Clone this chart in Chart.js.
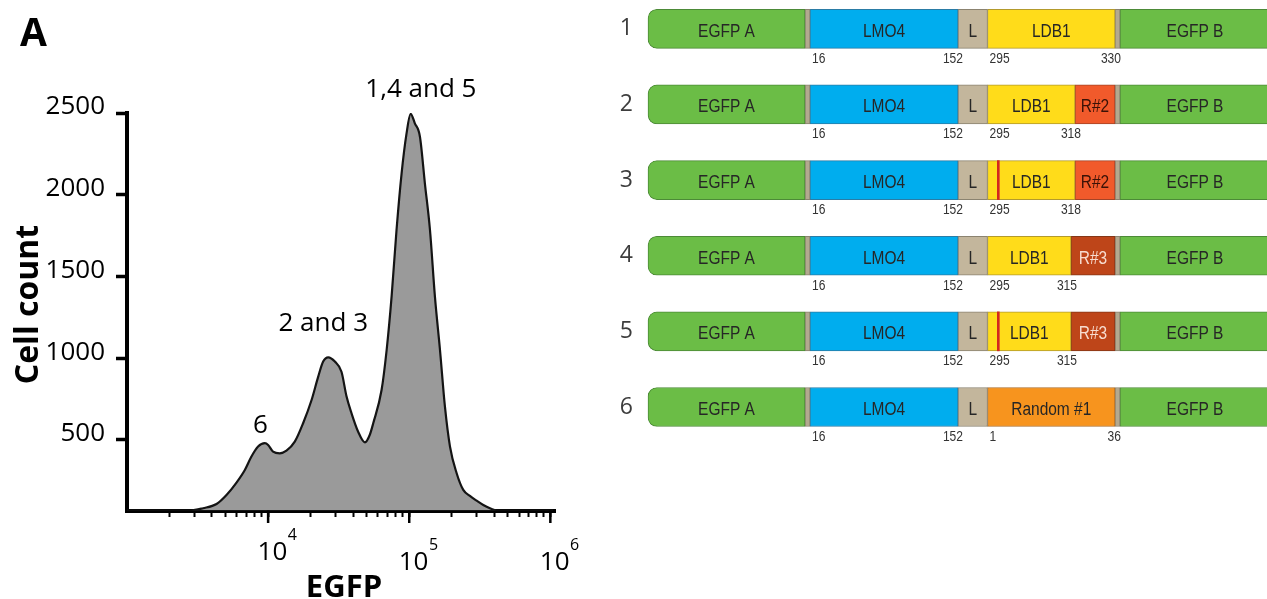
<!DOCTYPE html>
<html>
<head>
<meta charset="utf-8">
<script src="https://cdn.jsdelivr.net/npm/chart.js@4.4.1/dist/chart.umd.min.js"></script>
<style>
  html, body { margin: 0; padding: 0; background: #fff; width: 1267px; height: 599px; overflow: hidden; }
  #flow { position: absolute; left: 0; top: 0; }
  #constructs { position: absolute; left: 600px; top: 0; }
</style>
</head>
<body>
<canvas id="flow" width="600" height="599"></canvas>
<canvas id="constructs" width="667" height="460"></canvas>
<script>
// ---------- Panel A: EGFP flow cytometry histogram ----------
const egfpIntensity = [1000, 2820, 3460, 4310, 5070, 5970, 6840, 7620, 8490, 9480, 10000, 10840, 12100, 13490,
  15450, 17700, 20320, 22650, 24550, 26670, 29720, 33110, 35970, 38990, 43450, 48530, 52480, 55590, 63680,
  69180, 74990, 81280, 88310, 95720, 102300, 109600, 119100, 129100, 140300, 152100, 165200, 179100, 194500,
  216800, 241500, 269200, 300600, 335000, 373300, 416900, 1047000];
const cellCount = [68, 68, 82, 108, 163, 239, 316, 398, 459, 480, 469, 428, 418, 434,
  489, 602, 744, 887, 979, 1005, 979, 917, 765, 663, 550, 485, 530, 602, 805,
  1050, 1376, 1784, 2131, 2375, 2495, 2437, 2355, 2070, 1784, 1376, 1050, 703, 459,
  296, 194, 157, 128, 102, 82, 68, 68];

const yTicks = [500, 1000, 1500, 2000, 2500];
const xDecades = [1e3, 1e4, 1e5];
const xMajorTicks = [1e4, 1e5, 1e6];
const xTickExponents = ['4', '5', '6'];

// peaks named after the constructs they correspond to
const peakNames = ['6', '2 and 3', '1,4 and 5'];
const peakIntensity = [9480, 26670, 102300];

// ---------- Panel B: construct schematics (schematic units along the fusion) ----------
const rowLabels = ['1', '2', '3', '4', '5', '6'];
const egfpA   = [[0, 157], [0, 157], [0, 157], [0, 157], [0, 157], [0, 157]];
const spacer1 = [[157, 162], [157, 162], [157, 162], [157, 162], [157, 162], [157, 162]];
const lmo4    = [[162, 310], [162, 310], [162, 310], [162, 310], [162, 310], [162, 310]];
const linker  = [[310, 339.5], [310, 339.5], [310, 339.5], [310, 339.5], [310, 339.5], [310, 339.5]];
const ldb1    = [[339.5, 467], [339.5, 427], [339.5, 427], [339.5, 423], [339.5, 423], null];
const rand2   = [null, [427, 467], [427, 467], null, null, null];
const rand3   = [null, null, null, [423, 467], [423, 467], null];
const random1 = [null, null, null, null, null, [339.5, 467]];
const spacer2 = [[467, 472], [467, 472], [467, 472], [467, 472], [467, 472], [467, 472]];
const egfpB   = [[472, 622], [472, 622], [472, 622], [472, 622], [472, 622], [472, 622]];
const mutation = [null, null, [349.3, 351.3], null, [349.3, 351.3], null];

const lmo4From    = ['16', '16', '16', '16', '16', '16'];
const lmo4To      = ['152', '152', '152', '152', '152', '152'];
const partnerFrom = ['295', '295', '295', '295', '295', '1'];
const partnerTo   = ['330', '318', '318', '315', '315', '36'];

// ---------------------------------------------------------------
Chart.defaults.font.family = '"Open Sans", sans-serif';
Chart.defaults.color = '#000';

const flowText = {
  id: 'flowText',
  afterDraw(chart) {
    const { ctx, chartArea, scales: { x, y } } = chart;
    ctx.save();
    ctx.fillStyle = '#000';
    ctx.strokeStyle = '#000';

    // decade ticks are drawn longer than the minor ones
    ctx.lineWidth = 2.5;
    xMajorTicks.forEach(v => {
      const px = x.getPixelForValue(v);
      ctx.beginPath();
      ctx.moveTo(px, chartArea.bottom);
      ctx.lineTo(px, chartArea.bottom + 12.5);
      ctx.stroke();
    });

    // decade labels 10^n
    const drop = [0, 9.5, 9.5];
    ctx.textAlign = 'left';
    ctx.textBaseline = 'alphabetic';
    xMajorTicks.forEach((v, i) => {
      const px = x.getPixelForValue(v);
      const base = chartArea.bottom + 49.5 + drop[i];
      ctx.font = '26px "Open Sans"';
      ctx.fillText('10', px - 10.5, base);
      const w = ctx.measureText('10').width;
      ctx.font = '16px "Open Sans"';
      ctx.fillText(xTickExponents[i], px - 10 + w, base - 20);
    });

    // axis titles
    ctx.font = 'bold 31px "Open Sans"';
    ctx.textAlign = 'center';
    ctx.fillText('EGFP', 344, 597);
    ctx.save();
    ctx.translate(38, 304.5);
    ctx.rotate(-Math.PI / 2);
    ctx.font = 'bold 32px "Open Sans"';
    ctx.fillText('Cell count', 0, 0);
    ctx.restore();

    // panel letter
    ctx.font = 'bold 39px "Open Sans"';
    ctx.fillText('A', 33.5, 46);

    // peak annotations
    const shift = [[-4.5, -10], [-5, -26.3], [10.3, -17]];
    ctx.font = '26px "Open Sans"';
    peakNames.forEach((name, i) => {
      const k = egfpIntensity.indexOf(peakIntensity[i]);
      const px = x.getPixelForValue(peakIntensity[i]);
      const py = y.getPixelForValue(cellCount[k]);
      ctx.fillText(name, px + shift[i][0], py + shift[i][1]);
    });
    ctx.restore();
  }
};

new Chart(document.getElementById('flow'), {
  type: 'line',
  data: {
    datasets: [{
      data: egfpIntensity.map((v, i) => ({ x: v, y: cellCount[i] })),
      borderColor: '#141414',
      borderWidth: 2.2,
      backgroundColor: '#9a9a9a',
      fill: 'start',
      pointRadius: 0,
      cubicInterpolationMode: 'monotone'
    }]
  },
  options: {
    responsive: false,
    animation: false,
    devicePixelRatio: 1,
    layout: { padding: { top: 113, right: 45, left: 0, bottom: 0 } },
    plugins: { legend: { display: false }, tooltip: { enabled: false } },
    scales: {
      x: {
        type: 'logarithmic',
        min: 1000,
        max: 1.079e6,
        z: 1,
        afterBuildTicks: s => {
          const t = [];
          xDecades.forEach(d => { for (let m = 2; m <= 9; m++) t.push({ value: m * d }); });
          xMajorTicks.forEach(v => t.push({ value: v }));
          s.ticks = t.sort((a, b) => a.value - b.value);
        },
        afterFit: s => { s.height = 88.5; },
        ticks: { display: false },
        grid: { display: true, drawOnChartArea: false, drawTicks: true, tickLength: 6.5, tickWidth: 2, tickColor: '#000' },
        border: { display: true, width: 4, color: '#000' }
      },
      y: {
        min: 68,
        max: 2500,
        z: 1,
        afterBuildTicks: s => { s.ticks = yTicks.map(v => ({ value: v })); },
        afterFit: s => { s.width = 127; },
        ticks: { font: { size: 26 }, color: '#000', padding: 11, labelOffset: -6, callback: v => String(v) },
        grid: { display: true, drawOnChartArea: false, drawTicks: true, tickLength: 11, tickWidth: 3.5, tickColor: '#000' },
        border: { display: true, width: 4, color: '#000' }
      }
    }
  },
  plugins: [flowText]
});

// ---------- construct schematics ----------
function narrowText(ctx, text, x, y, align, font, color, squeeze) {
  ctx.save();
  ctx.translate(x, y);
  ctx.scale(squeeze, 1);
  ctx.font = font;
  ctx.fillStyle = color;
  ctx.textAlign = align;
  ctx.textBaseline = 'middle';
  ctx.fillText(text, 0, 0);
  ctx.restore();
}

const segments = [
  { name: 'mutation', data: mutation, bg: '#d3261f', border: '#d3261f', width: 0 },
  { name: 'EGFP A', data: egfpA, bg: '#6bbd46', border: '#4c8a37', text: 'EGFP A', radius: { topLeft: 9, bottomLeft: 9 } },
  { name: 'spacer', data: spacer1, bg: '#b3a98f', border: '#8b8370' },
  { name: 'LMO4', data: lmo4, bg: '#00adee', border: '#2a7ca6', text: 'LMO4' },
  { name: 'L', data: linker, bg: '#c3b69c', border: '#8b8370', text: 'L' },
  { name: 'LDB1', data: ldb1, bg: '#ffdc1a', border: '#b39a2c', text: 'LDB1' },
  { name: 'R#2', data: rand2, bg: '#f15a2b', border: '#a44427', text: 'R#2', color: '#3a1207' },
  { name: 'R#3', data: rand3, bg: '#be4519', border: '#853717', text: 'R#3', color: '#f7dccf' },
  { name: 'Random #1', data: random1, bg: '#f7941e', border: '#ad6d27', text: 'Random #1' },
  { name: 'spacer', data: spacer2, bg: '#b3a98f', border: '#8b8370' },
  { name: 'EGFP B', data: egfpB, bg: '#6bbd46', border: '#4c8a37', text: 'EGFP B' }
];

const constructText = {
  id: 'constructText',
  afterDatasetsDraw(chart) {
    const { ctx, scales: { x, y } } = chart;
    const segFont = '18px "Liberation Sans"';
    const numFont = '14px "Liberation Sans"';
    segments.forEach(s => {
      if (!s.text) return;
      s.data.forEach((d, i) => {
        if (!d) return;
        const cx = x.getPixelForValue((d[0] + d[1]) / 2);
        const cy = y.getPixelForTick(i) + 3;
        narrowText(ctx, s.text, cx, cy, 'center', segFont, s.color || '#262626', 0.86);
      });
    });
    rowLabels.forEach((r, i) => {
      const ly = y.getPixelForTick(i) + 30;
      const partner = ldb1[i] || random1[i];
      narrowText(ctx, lmo4From[i], x.getPixelForValue(lmo4[i][0]) + 2, ly, 'left', numFont, '#333', 0.86);
      narrowText(ctx, lmo4To[i], x.getPixelForValue(lmo4[i][1]) + 5, ly, 'right', numFont, '#333', 0.86);
      narrowText(ctx, partnerFrom[i], x.getPixelForValue(partner[0]) + 2, ly, 'left', numFont, '#333', 0.86);
      narrowText(ctx, partnerTo[i], x.getPixelForValue(partner[1]) + 6, ly, 'right', numFont, '#333', 0.86);
    });
  }
};

new Chart(document.getElementById('constructs'), {
  type: 'bar',
  data: {
    labels: rowLabels,
    datasets: segments.map(s => ({
      label: s.name,
      data: s.data,
      backgroundColor: s.bg,
      borderColor: s.border,
      borderWidth: s.width === 0 ? 0 : 1,
      borderRadius: s.radius || 0,
      borderSkipped: false,
      barThickness: 39,
      grouped: false,
      clip: false
    }))
  },
  options: {
    indexAxis: 'y',
    responsive: false,
    animation: false,
    devicePixelRatio: 1,
    layout: { padding: { top: 28.3, bottom: 53, left: 0, right: 0 } },
    plugins: { legend: { display: false }, tooltip: { enabled: false } },
    scales: {
      x: { type: 'linear', min: 0, max: 619, display: false },
      y: {
        type: 'category',
        offset: false,
        afterFit: s => { s.width = 48; },
        grid: { display: false, drawTicks: false },
        border: { display: false },
        ticks: { font: { size: 23 }, color: '#3d3d3d', padding: 15 }
      }
    }
  },
  plugins: [constructText]
});
</script>
</body>
</html>
